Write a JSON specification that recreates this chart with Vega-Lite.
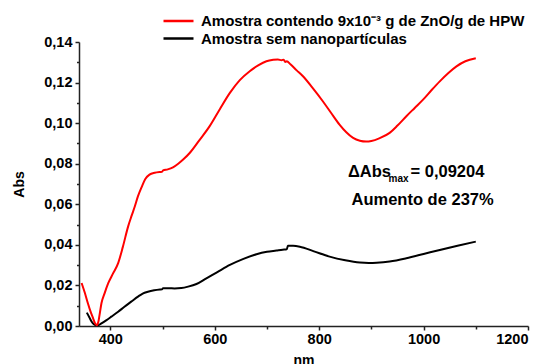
{
  "$schema": "https://vega.github.io/schema/vega-lite/v6.json",
  "width": 449,
  "height": 284,
  "autosize": {"type": "none"},
  "padding": {"left": 79, "top": 42, "right": 16, "bottom": 38},
  "config": {
    "view": {"stroke": null},
    "font": "Liberation Sans",
    "axis": {
      "grid": false,
      "domainColor": "#222222",
      "tickColor": "#222222",
      "domainWidth": 1.5,
      "tickWidth": 1.5,
      "labelFont": "Liberation Sans",
      "labelFontWeight": "bold",
      "labelFontSize": 14.5,
      "labelColor": "#000000",
      "titleFont": "Liberation Sans",
      "titleFontWeight": "bold",
      "titleFontSize": 14,
      "titleColor": "#000000"
    }
  },
  "datasets": {
    "spectra": [
      {"serie": "Amostra sem nanopartículas", "nm": 355, "abs": 0.0066},
      {"serie": "Amostra sem nanopartículas", "nm": 360, "abs": 0.0042},
      {"serie": "Amostra sem nanopartículas", "nm": 364, "abs": 0.0022},
      {"serie": "Amostra sem nanopartículas", "nm": 368, "abs": 0.0010},
      {"serie": "Amostra sem nanopartículas", "nm": 372, "abs": 0.0004},
      {"serie": "Amostra sem nanopartículas", "nm": 377, "abs": 0.0004},
      {"serie": "Amostra sem nanopartículas", "nm": 383, "abs": 0.0013},
      {"serie": "Amostra sem nanopartículas", "nm": 392, "abs": 0.0028},
      {"serie": "Amostra sem nanopartículas", "nm": 402, "abs": 0.0046},
      {"serie": "Amostra sem nanopartículas", "nm": 415, "abs": 0.0070},
      {"serie": "Amostra sem nanopartículas", "nm": 427, "abs": 0.0095},
      {"serie": "Amostra sem nanopartículas", "nm": 440, "abs": 0.0120},
      {"serie": "Amostra sem nanopartículas", "nm": 453, "abs": 0.0145},
      {"serie": "Amostra sem nanopartículas", "nm": 462, "abs": 0.0160},
      {"serie": "Amostra sem nanopartículas", "nm": 472, "abs": 0.0169},
      {"serie": "Amostra sem nanopartículas", "nm": 484, "abs": 0.0176},
      {"serie": "Amostra sem nanopartículas", "nm": 495, "abs": 0.0180},
      {"serie": "Amostra sem nanopartículas", "nm": 499, "abs": 0.0181},
      {"serie": "Amostra sem nanopartículas", "nm": 501, "abs": 0.0186},
      {"serie": "Amostra sem nanopartículas", "nm": 512, "abs": 0.0186},
      {"serie": "Amostra sem nanopartículas", "nm": 523, "abs": 0.0185},
      {"serie": "Amostra sem nanopartículas", "nm": 536, "abs": 0.0187},
      {"serie": "Amostra sem nanopartículas", "nm": 549, "abs": 0.0194},
      {"serie": "Amostra sem nanopartículas", "nm": 565, "abs": 0.0207},
      {"serie": "Amostra sem nanopartículas", "nm": 584, "abs": 0.0235},
      {"serie": "Amostra sem nanopartículas", "nm": 605, "abs": 0.0266},
      {"serie": "Amostra sem nanopartículas", "nm": 629, "abs": 0.0301},
      {"serie": "Amostra sem nanopartículas", "nm": 655, "abs": 0.0331},
      {"serie": "Amostra sem nanopartículas", "nm": 680, "abs": 0.0354},
      {"serie": "Amostra sem nanopartículas", "nm": 700, "abs": 0.0366},
      {"serie": "Amostra sem nanopartículas", "nm": 718, "abs": 0.0372},
      {"serie": "Amostra sem nanopartículas", "nm": 730, "abs": 0.0376},
      {"serie": "Amostra sem nanopartículas", "nm": 738, "abs": 0.0378},
      {"serie": "Amostra sem nanopartículas", "nm": 740, "abs": 0.0395},
      {"serie": "Amostra sem nanopartículas", "nm": 750, "abs": 0.0395},
      {"serie": "Amostra sem nanopartículas", "nm": 763, "abs": 0.0391},
      {"serie": "Amostra sem nanopartículas", "nm": 790, "abs": 0.0368},
      {"serie": "Amostra sem nanopartículas", "nm": 820, "abs": 0.0342},
      {"serie": "Amostra sem nanopartículas", "nm": 850, "abs": 0.0324},
      {"serie": "Amostra sem nanopartículas", "nm": 878, "abs": 0.0313},
      {"serie": "Amostra sem nanopartículas", "nm": 895, "abs": 0.0311},
      {"serie": "Amostra sem nanopartículas", "nm": 910, "abs": 0.0312},
      {"serie": "Amostra sem nanopartículas", "nm": 935, "abs": 0.0318},
      {"serie": "Amostra sem nanopartículas", "nm": 967, "abs": 0.0334},
      {"serie": "Amostra sem nanopartículas", "nm": 1000, "abs": 0.0355},
      {"serie": "Amostra sem nanopartículas", "nm": 1031, "abs": 0.0375},
      {"serie": "Amostra sem nanopartículas", "nm": 1065, "abs": 0.0396},
      {"serie": "Amostra sem nanopartículas", "nm": 1100, "abs": 0.0416},
      {"serie": "Amostra contendo 9x10⁻³ g de ZnO/g de HPW", "nm": 345, "abs": 0.0212},
      {"serie": "Amostra contendo 9x10⁻³ g de ZnO/g de HPW", "nm": 351, "abs": 0.0165},
      {"serie": "Amostra contendo 9x10⁻³ g de ZnO/g de HPW", "nm": 357, "abs": 0.0112},
      {"serie": "Amostra contendo 9x10⁻³ g de ZnO/g de HPW", "nm": 362, "abs": 0.0072},
      {"serie": "Amostra contendo 9x10⁻³ g de ZnO/g de HPW", "nm": 367, "abs": 0.0038},
      {"serie": "Amostra contendo 9x10⁻³ g de ZnO/g de HPW", "nm": 371, "abs": 0.0012},
      {"serie": "Amostra contendo 9x10⁻³ g de ZnO/g de HPW", "nm": 374, "abs": 0.0004},
      {"serie": "Amostra contendo 9x10⁻³ g de ZnO/g de HPW", "nm": 377, "abs": 0.0020},
      {"serie": "Amostra contendo 9x10⁻³ g de ZnO/g de HPW", "nm": 380, "abs": 0.0065},
      {"serie": "Amostra contendo 9x10⁻³ g de ZnO/g de HPW", "nm": 383, "abs": 0.0112},
      {"serie": "Amostra contendo 9x10⁻³ g de ZnO/g de HPW", "nm": 389, "abs": 0.0161},
      {"serie": "Amostra contendo 9x10⁻³ g de ZnO/g de HPW", "nm": 396, "abs": 0.0211},
      {"serie": "Amostra contendo 9x10⁻³ g de ZnO/g de HPW", "nm": 405, "abs": 0.0258},
      {"serie": "Amostra contendo 9x10⁻³ g de ZnO/g de HPW", "nm": 415, "abs": 0.0310},
      {"serie": "Amostra contendo 9x10⁻³ g de ZnO/g de HPW", "nm": 424, "abs": 0.0390},
      {"serie": "Amostra contendo 9x10⁻³ g de ZnO/g de HPW", "nm": 434, "abs": 0.0490},
      {"serie": "Amostra contendo 9x10⁻³ g de ZnO/g de HPW", "nm": 441, "abs": 0.0545},
      {"serie": "Amostra contendo 9x10⁻³ g de ZnO/g de HPW", "nm": 447, "abs": 0.0590},
      {"serie": "Amostra contendo 9x10⁻³ g de ZnO/g de HPW", "nm": 453, "abs": 0.0640},
      {"serie": "Amostra contendo 9x10⁻³ g de ZnO/g de HPW", "nm": 460, "abs": 0.0685},
      {"serie": "Amostra contendo 9x10⁻³ g de ZnO/g de HPW", "nm": 467, "abs": 0.0725},
      {"serie": "Amostra contendo 9x10⁻³ g de ZnO/g de HPW", "nm": 475, "abs": 0.0746},
      {"serie": "Amostra contendo 9x10⁻³ g de ZnO/g de HPW", "nm": 485, "abs": 0.0755},
      {"serie": "Amostra contendo 9x10⁻³ g de ZnO/g de HPW", "nm": 495, "abs": 0.0759},
      {"serie": "Amostra contendo 9x10⁻³ g de ZnO/g de HPW", "nm": 499, "abs": 0.0760},
      {"serie": "Amostra contendo 9x10⁻³ g de ZnO/g de HPW", "nm": 501, "abs": 0.0767},
      {"serie": "Amostra contendo 9x10⁻³ g de ZnO/g de HPW", "nm": 510, "abs": 0.0772},
      {"serie": "Amostra contendo 9x10⁻³ g de ZnO/g de HPW", "nm": 520, "abs": 0.0782},
      {"serie": "Amostra contendo 9x10⁻³ g de ZnO/g de HPW", "nm": 530, "abs": 0.0800},
      {"serie": "Amostra contendo 9x10⁻³ g de ZnO/g de HPW", "nm": 540, "abs": 0.0822},
      {"serie": "Amostra contendo 9x10⁻³ g de ZnO/g de HPW", "nm": 552, "abs": 0.0853},
      {"serie": "Amostra contendo 9x10⁻³ g de ZnO/g de HPW", "nm": 570, "abs": 0.0914},
      {"serie": "Amostra contendo 9x10⁻³ g de ZnO/g de HPW", "nm": 590, "abs": 0.0984},
      {"serie": "Amostra contendo 9x10⁻³ g de ZnO/g de HPW", "nm": 610, "abs": 0.1070},
      {"serie": "Amostra contendo 9x10⁻³ g de ZnO/g de HPW", "nm": 629, "abs": 0.1149},
      {"serie": "Amostra contendo 9x10⁻³ g de ZnO/g de HPW", "nm": 648, "abs": 0.1212},
      {"serie": "Amostra contendo 9x10⁻³ g de ZnO/g de HPW", "nm": 667, "abs": 0.1256},
      {"serie": "Amostra contendo 9x10⁻³ g de ZnO/g de HPW", "nm": 684, "abs": 0.1286},
      {"serie": "Amostra contendo 9x10⁻³ g de ZnO/g de HPW", "nm": 699, "abs": 0.1305},
      {"serie": "Amostra contendo 9x10⁻³ g de ZnO/g de HPW", "nm": 712, "abs": 0.1312},
      {"serie": "Amostra contendo 9x10⁻³ g de ZnO/g de HPW", "nm": 721, "abs": 0.1314},
      {"serie": "Amostra contendo 9x10⁻³ g de ZnO/g de HPW", "nm": 728, "abs": 0.1310},
      {"serie": "Amostra contendo 9x10⁻³ g de ZnO/g de HPW", "nm": 732, "abs": 0.1313},
      {"serie": "Amostra contendo 9x10⁻³ g de ZnO/g de HPW", "nm": 735, "abs": 0.1302},
      {"serie": "Amostra contendo 9x10⁻³ g de ZnO/g de HPW", "nm": 738, "abs": 0.1305},
      {"serie": "Amostra contendo 9x10⁻³ g de ZnO/g de HPW", "nm": 745, "abs": 0.1290},
      {"serie": "Amostra contendo 9x10⁻³ g de ZnO/g de HPW", "nm": 757, "abs": 0.1260},
      {"serie": "Amostra contendo 9x10⁻³ g de ZnO/g de HPW", "nm": 769, "abs": 0.1231},
      {"serie": "Amostra contendo 9x10⁻³ g de ZnO/g de HPW", "nm": 787, "abs": 0.1175},
      {"serie": "Amostra contendo 9x10⁻³ g de ZnO/g de HPW", "nm": 807, "abs": 0.1108},
      {"serie": "Amostra contendo 9x10⁻³ g de ZnO/g de HPW", "nm": 823, "abs": 0.1050},
      {"serie": "Amostra contendo 9x10⁻³ g de ZnO/g de HPW", "nm": 839, "abs": 0.0993},
      {"serie": "Amostra contendo 9x10⁻³ g de ZnO/g de HPW", "nm": 852, "abs": 0.0955},
      {"serie": "Amostra contendo 9x10⁻³ g de ZnO/g de HPW", "nm": 865, "abs": 0.0927},
      {"serie": "Amostra contendo 9x10⁻³ g de ZnO/g de HPW", "nm": 878, "abs": 0.0913},
      {"serie": "Amostra contendo 9x10⁻³ g de ZnO/g de HPW", "nm": 890, "abs": 0.0909},
      {"serie": "Amostra contendo 9x10⁻³ g de ZnO/g de HPW", "nm": 900, "abs": 0.0912},
      {"serie": "Amostra contendo 9x10⁻³ g de ZnO/g de HPW", "nm": 915, "abs": 0.0925},
      {"serie": "Amostra contendo 9x10⁻³ g de ZnO/g de HPW", "nm": 935, "abs": 0.0952},
      {"serie": "Amostra contendo 9x10⁻³ g de ZnO/g de HPW", "nm": 950, "abs": 0.0988},
      {"serie": "Amostra contendo 9x10⁻³ g de ZnO/g de HPW", "nm": 967, "abs": 0.1034},
      {"serie": "Amostra contendo 9x10⁻³ g de ZnO/g de HPW", "nm": 983, "abs": 0.1075},
      {"serie": "Amostra contendo 9x10⁻³ g de ZnO/g de HPW", "nm": 999, "abs": 0.1116},
      {"serie": "Amostra contendo 9x10⁻³ g de ZnO/g de HPW", "nm": 1015, "abs": 0.1162},
      {"serie": "Amostra contendo 9x10⁻³ g de ZnO/g de HPW", "nm": 1031, "abs": 0.1206},
      {"serie": "Amostra contendo 9x10⁻³ g de ZnO/g de HPW", "nm": 1047, "abs": 0.1246},
      {"serie": "Amostra contendo 9x10⁻³ g de ZnO/g de HPW", "nm": 1063, "abs": 0.1280},
      {"serie": "Amostra contendo 9x10⁻³ g de ZnO/g de HPW", "nm": 1080, "abs": 0.1305},
      {"serie": "Amostra contendo 9x10⁻³ g de ZnO/g de HPW", "nm": 1100, "abs": 0.1320}
    ],
    "notes": [
      {"nm": 855, "abs": 0.0760, "label": "ΔAbs"},
      {"nm": 975, "abs": 0.0760, "label": "= 0,09204"},
      {"nm": 862, "abs": 0.0622, "label": "Aumento de 237%"}
    ],
    "subscript": [
      {"nm": 933, "abs": 0.0726, "label": "max"}
    ]
  },
  "resolve": {"axis": {"x": "independent", "y": "independent"}},
  "layer": [
    {
      "data": {"name": "spectra"},
      "mark": {"type": "line", "strokeWidth": 2, "interpolate": "monotone"},
      "encoding": {
        "x": {
          "field": "nm", "type": "quantitative",
          "scale": {"domain": [340, 1200], "nice": false, "zero": false},
          "axis": {"values": [400, 600, 800, 1000, 1200], "format": "d", "tickSize": 4, "labelPadding": 2, "title": "nm", "titlePadding": 8}
        },
        "y": {
          "field": "abs", "type": "quantitative",
          "scale": {"domain": [0, 0.14], "nice": false},
          "axis": {"values": [0, 0.02, 0.04, 0.06, 0.08, 0.1, 0.12, 0.14], "labelExpr": "replace(format(datum.value, '.2f'), '.', ',')", "tickSize": 4, "labelPadding": 3, "title": "Abs", "titlePadding": 17}
        },
        "color": {
          "field": "serie", "type": "nominal",
          "scale": {"domain": ["Amostra contendo 9x10⁻³ g de ZnO/g de HPW", "Amostra sem nanopartículas"], "range": ["#ff0000", "#000000"]},
          "legend": {
            "orient": "none", "legendX": 83, "legendY": -28, "title": null,
            "symbolType": "stroke", "symbolSize": 900, "symbolStrokeWidth": 2.5,
            "labelFont": "Liberation Sans", "labelFontWeight": "bold", "labelFontSize": 15, "labelColor": "#000000",
            "labelOffset": 6, "clipHeight": 14, "rowPadding": 2.5, "labelLimit": 400
          }
        }
      }
    },
    {
      "data": {"name": "notes"},
      "mark": {"type": "text", "align": "left", "baseline": "middle", "fontSize": 16.5, "fontWeight": "bold", "font": "Liberation Sans", "color": "#000000"},
      "encoding": {
        "x": {"field": "nm", "type": "quantitative", "axis": null},
        "y": {"field": "abs", "type": "quantitative", "axis": null},
        "text": {"field": "label"}
      }
    },
    {
      "data": {"name": "subscript"},
      "mark": {"type": "text", "align": "left", "baseline": "middle", "fontSize": 10, "fontWeight": "bold", "font": "Liberation Sans", "color": "#000000"},
      "encoding": {
        "x": {"field": "nm", "type": "quantitative", "axis": {"orient": "bottom", "values": [500, 700, 900, 1100], "labels": false, "domain": false, "tickSize": 3, "title": null}},
        "y": {"field": "abs", "type": "quantitative", "axis": {"orient": "left", "values": [0.01, 0.03, 0.05, 0.07, 0.09, 0.11, 0.13], "labels": false, "domain": false, "tickSize": 2.5, "title": null}},
        "text": {"field": "label"}
      }
    }
  ]
}
